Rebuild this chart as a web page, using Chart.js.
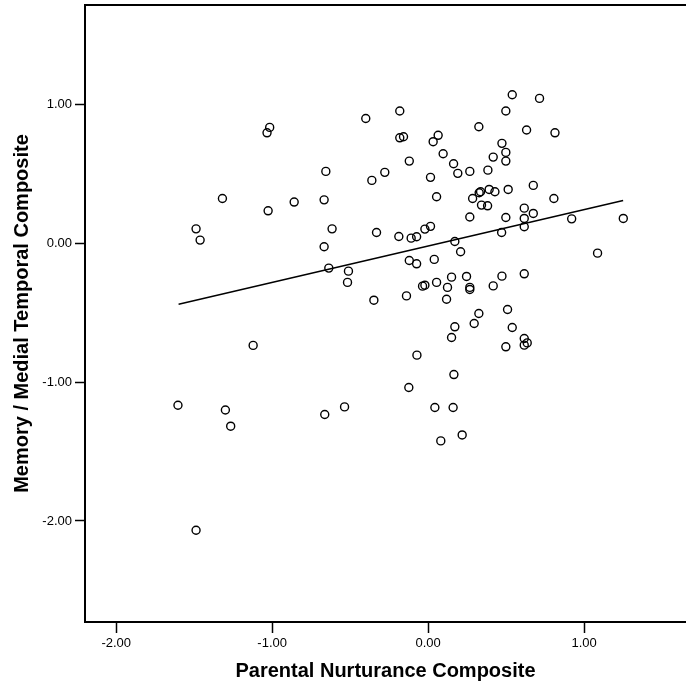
<!DOCTYPE html>
<html lang="en">
<head>
  <meta charset="UTF-8" />
  <title>Parental Nurturance vs Memory / Medial Temporal Composite</title>
  <script src="https://cdn.jsdelivr.net/npm/chart.js"></script>
  <style>
    html, body {
      margin: 0;
      padding: 0;
      background: #fff;
      overflow: hidden;
    }
    canvas {
      display: block;
    }
  </style>
</head>
<body>
  <canvas id="chart" width="686" height="688"></canvas>

  <script>
    // values
    const parentalNurturance = [
      -0.40, -1.016, -1.033, -0.656, -0.361, -1.319, -0.859, -0.667, -1.026, -1.488,
      -1.462, -0.616, -0.331, -0.667, -0.637, -0.511, -0.517, -0.348, 0.539, 0.714,
      -0.182, 0.498, 0.325, 0.631, 0.813, -0.182, -0.158, 0.064, 0.032, 0.473,
      0.096, 0.498, 0.417, 0.498, -0.121, 0.163, 0.190, 0.267, 0.383, -0.278,
      0.015, 0.674, 0.054, 0.327, 0.336, 0.391, 0.428, 0.285, 0.513, 0.806,
      0.342, 0.381, 0.616, 0.674, 0.616, 0.267, 0.498, 0.920, 1.251, 0.616,
      0.471, -0.188, -0.109, -0.074, -0.021, 0.015, 0.171, 0.208, 1.086, -0.121,
      -0.074, 0.039, -0.139, -0.036, -0.021, 0.054, 0.124, 0.150, 0.118, 0.246,
      0.267, 0.267, 0.417, 0.473, 0.616, 0.325, 0.509, 0.295, 0.171, 0.150,
      0.539, 0.616, 0.635, 0.616, 0.498, -0.072, 0.165, -0.124, 0.043, 0.160,
      0.218, 0.081, -1.122, -1.604, -1.300, -1.266, -0.663, -0.536, -1.488
    ];
    const memoryComposite = [
      0.90, 0.836, 0.797, 0.519, 0.454, 0.324, 0.298, 0.314, 0.235, 0.105,
      0.024, 0.105, 0.079, -0.024, -0.178, -0.200, -0.281, -0.409, 1.071, 1.045,
      0.954, 0.954, 0.841, 0.817, 0.797, 0.761, 0.769, 0.779, 0.733, 0.721,
      0.646, 0.656, 0.622, 0.593, 0.593, 0.574, 0.505, 0.519, 0.528, 0.512,
      0.476, 0.418, 0.336, 0.365, 0.372, 0.389, 0.372, 0.324, 0.389, 0.324,
      0.276, 0.271, 0.254, 0.216, 0.180, 0.190, 0.187, 0.177, 0.180, 0.120,
      0.079, 0.050, 0.038, 0.048, 0.103, 0.123, 0.014, -0.060, -0.070, -0.123,
      -0.147, -0.115, -0.378, -0.308, -0.301, -0.281, -0.317, -0.243, -0.402, -0.238,
      -0.317, -0.332, -0.306, -0.236, -0.219, -0.505, -0.476, -0.577, -0.601, -0.678,
      -0.606, -0.685, -0.717, -0.733, -0.745, -0.805, -0.945, -1.038, -1.182, -1.182,
      -1.380, -1.423, -0.735, -1.166, -1.200, -1.317, -1.233, -1.178, -2.067
    ];

    // fit line end points
    const fitX = [-1.60, 1.25];
    const fitY = [-0.438, 0.310];

    const xTicks = [-2, -1, 0, 1];
    const yTicks = [-2, -1, 0, 1];
    const xRange = [-2.2, 1.653];
    const yRange = [-2.728, 1.718];

    const fontFamily = '"Liberation Sans", Arial, Helvetica, sans-serif';

    const points = parentalNurturance.map((x, i) => ({ x: x, y: memoryComposite[i] }));
    const fitLine = fitX.map((x, i) => ({ x: x, y: fitY[i] }));

    // drop the extra room Chart.js keeps for edge labels
    function noPadding(axis) {
      axis.paddingTop = 0;
      axis.paddingBottom = 0;
      axis.paddingLeft = 0;
      axis.paddingRight = 0;
    }

    // top edge of the frame (no right edge in the original)
    const frameTop = {
      id: "frameTop",
      afterDraw(chart) {
        const { ctx, chartArea } = chart;
        ctx.save();
        ctx.strokeStyle = "#000";
        ctx.lineWidth = 2;
        ctx.beginPath();
        ctx.moveTo(chartArea.left - 1, chartArea.top);
        ctx.lineTo(chartArea.right, chartArea.top);
        ctx.stroke();
        ctx.restore();
      }
    };

    const ctx = document.getElementById("chart").getContext("2d");
    new Chart(ctx, {
      type: "scatter",
      data: {
        datasets: [
          {
            data: points,
            pointStyle: "circle",
            pointRadius: 4,
            borderWidth: 1.4,
            borderColor: "#000",
            backgroundColor: "rgba(0,0,0,0)"
          },
          {
            type: "line",
            data: fitLine,
            showLine: true,
            pointRadius: 0,
            borderWidth: 1.5,
            borderColor: "#000",
            fill: false
          }
        ]
      },
      plugins: [frameTop],
      options: {
        responsive: false,
        animation: false,
        layout: { autoPadding: false, padding: { top: 5, left: 0, right: 0, bottom: 0 } },
        plugins: {
          legend: { display: false },
          tooltip: { enabled: false }
        },
        scales: {
          x: {
            type: "linear",
            min: xRange[0],
            max: xRange[1],
            afterBuildTicks: axis => { axis.ticks = xTicks.map(v => ({ value: v })); },
            afterFit: axis => { axis.height = 66; noPadding(axis); },
            grid: { drawOnChartArea: false, tickLength: 11, tickWidth: 1.5, tickColor: "#000" },
            border: { display: true, color: "#000", width: 2 },
            ticks: {
              color: "#000",
              padding: 3,
              font: { family: fontFamily, size: 13 },
              callback: v => Number(v).toFixed(2)
            },
            title: {
              display: true,
              text: "Parental Nurturance Composite",
              color: "#000",
              font: { family: fontFamily, size: 20, weight: "bold" },
              padding: { top: 0, bottom: 5 }
            }
          },
          y: {
            type: "linear",
            min: yRange[0],
            max: yRange[1],
            afterBuildTicks: axis => { axis.ticks = yTicks.map(v => ({ value: v })); },
            afterFit: axis => { axis.width = 85; noPadding(axis); },
            grid: { drawOnChartArea: false, tickLength: 10, tickWidth: 1.5, tickColor: "#000" },
            border: { display: true, color: "#000", width: 2 },
            ticks: {
              color: "#000",
              padding: 3,
              font: { family: fontFamily, size: 13 },
              callback: v => Number(v).toFixed(2)
            },
            title: {
              display: true,
              text: "Memory / Medial Temporal Composite",
              color: "#000",
              font: { family: fontFamily, size: 20, weight: "bold" },
              padding: { top: 10, bottom: 0 }
            }
          }
        }
      }
    });
  </script>
</body>
</html>
